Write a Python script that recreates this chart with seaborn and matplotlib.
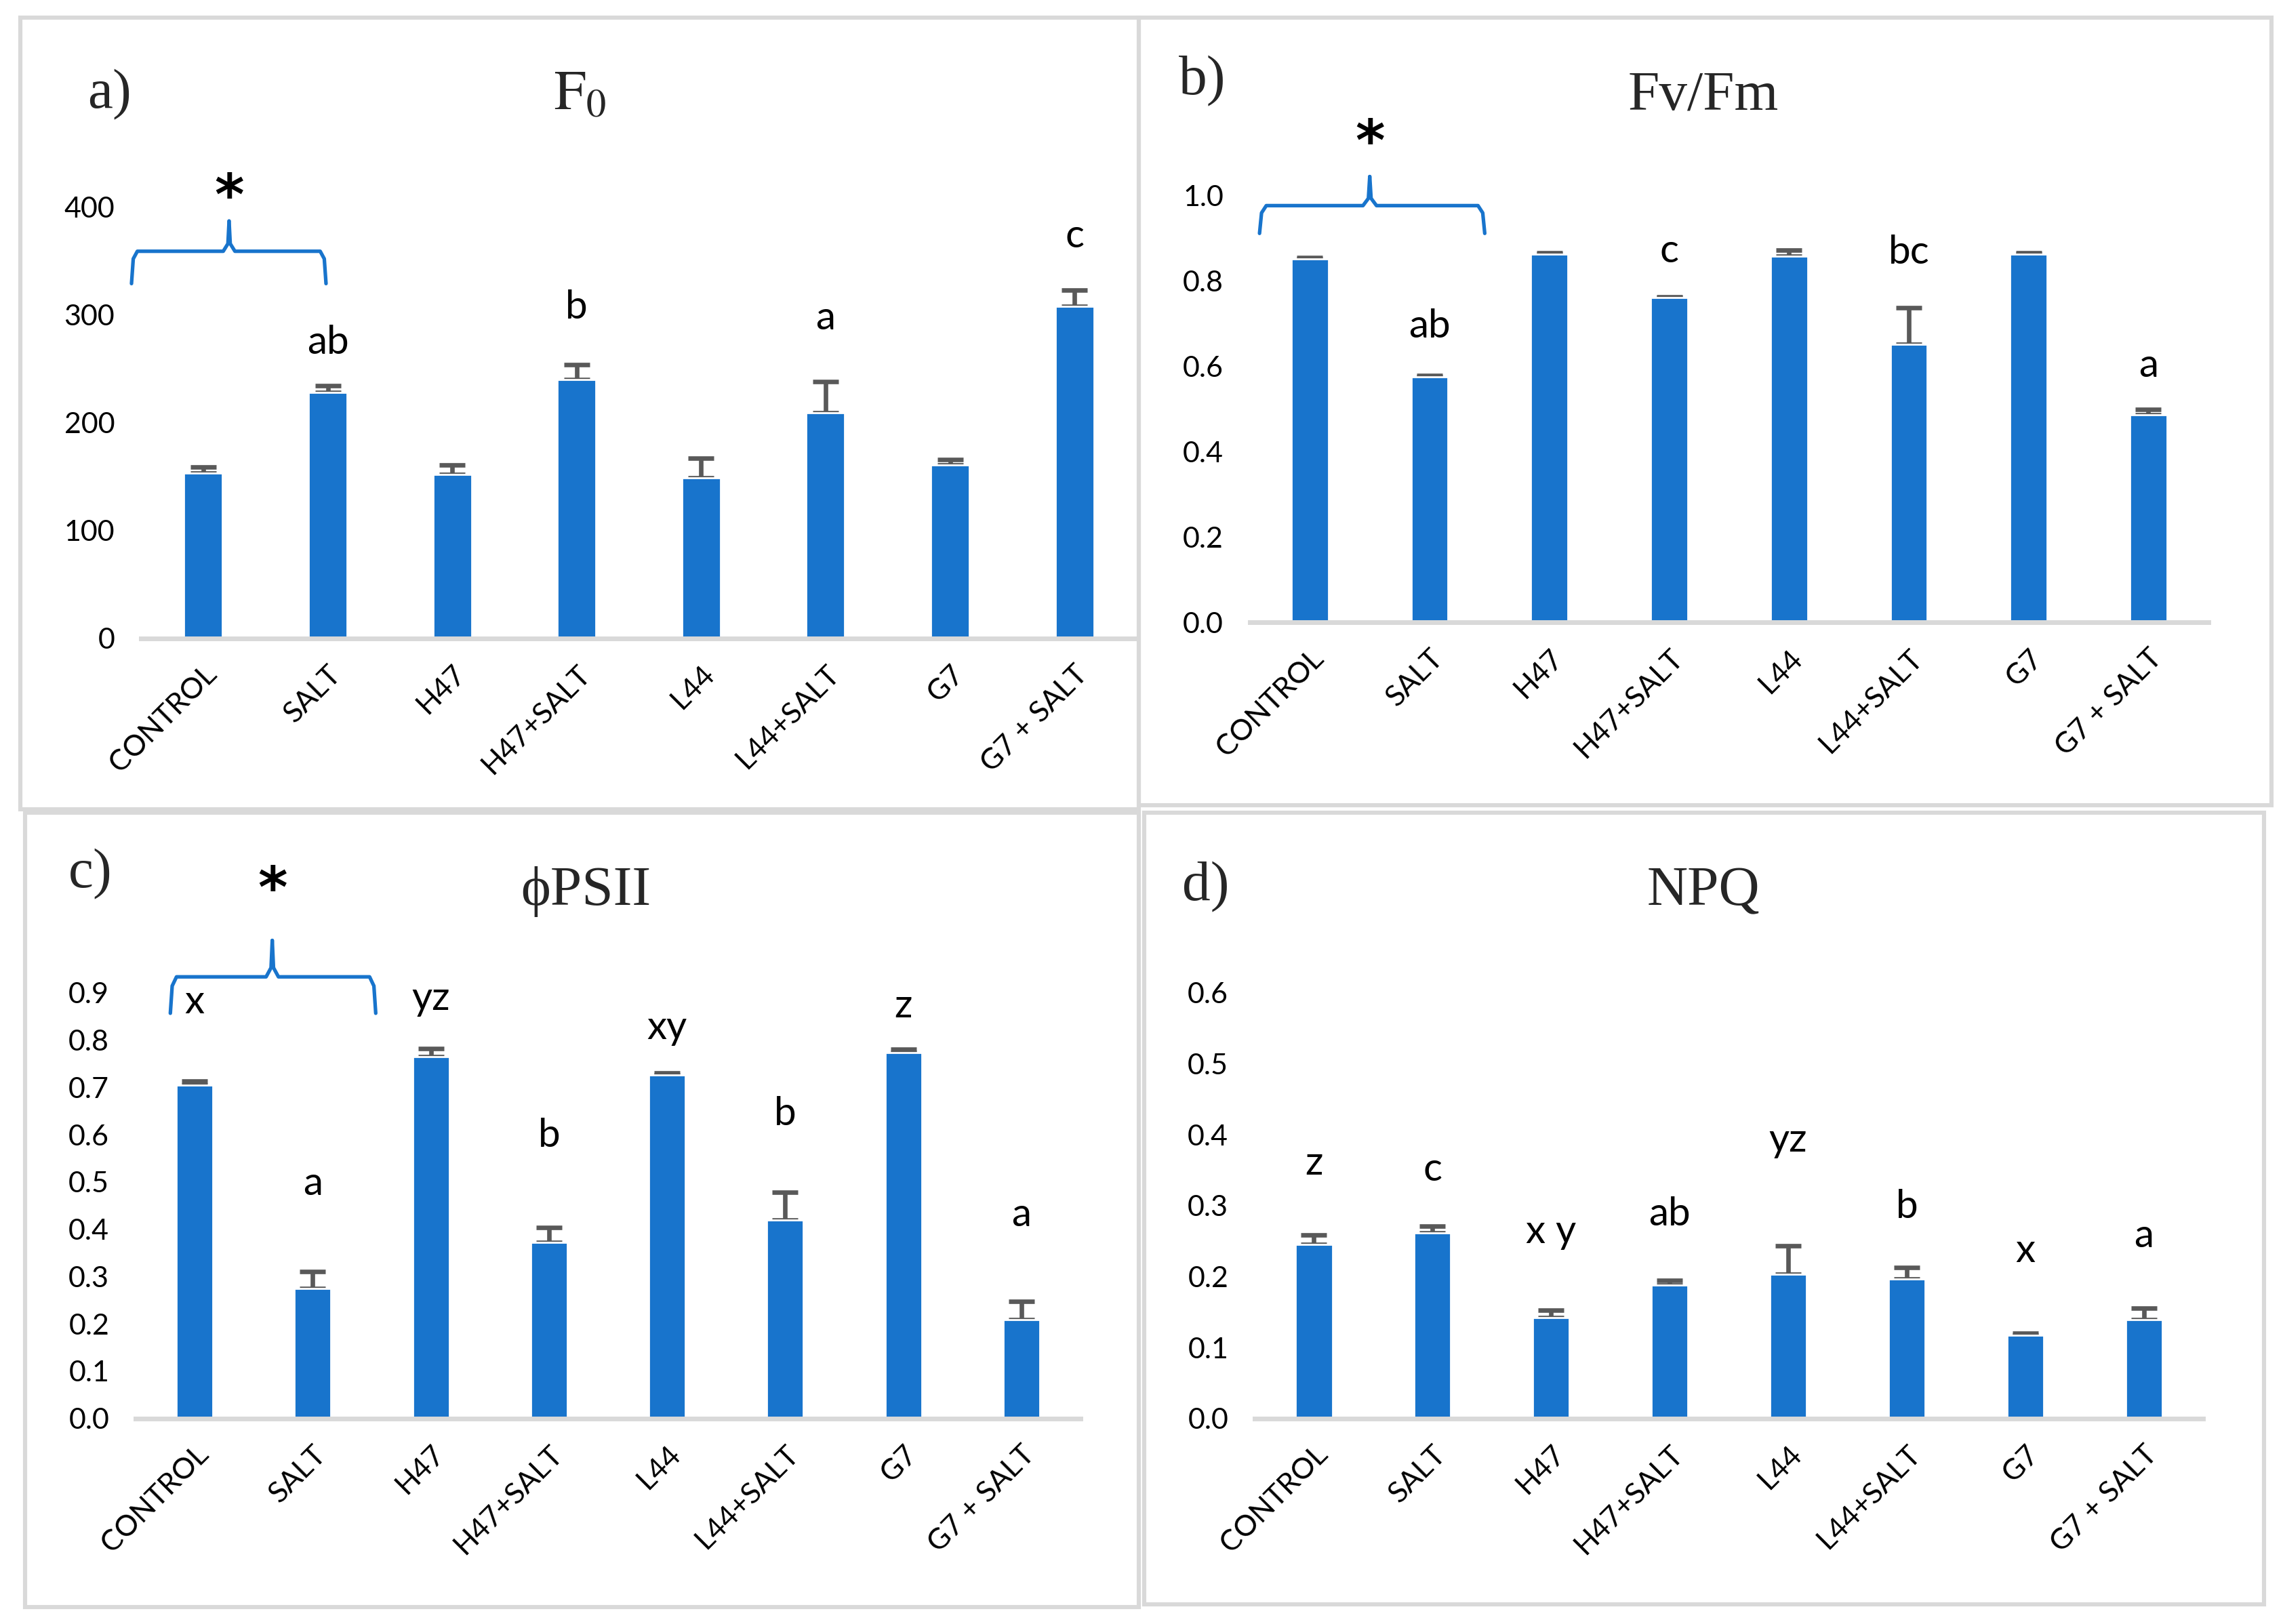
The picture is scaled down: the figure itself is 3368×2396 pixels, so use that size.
import matplotlib as mpl
import seaborn as sns
import pandas as pd
from matplotlib import pyplot as plt
from matplotlib.patches import Rectangle

sns.set_theme(style='white')
mpl.rcParams['font.family'] = ['Lato', 'DejaVu Sans']
mpl.rcParams['mathtext.fontset'] = 'stix'

BLUE = '#1874CC'
GREY = '#D9D9D9'
ERR = '#595959'
SERIF = ['Liberation Serif', 'DejaVu Serif']

# categories
treatments = ['CONTROL', 'SALT', 'H47', 'H47+SALT', 'L44', 'L44+SALT', 'G7', 'G7 + SALT']

# a) F0
f0 = [153, 228, 152, 240, 149, 209, 161, 308]
f0_err = [6, 6, 9, 14, 18, 29, 5, 15]
f0_letters = ['', 'ab', '', 'b', '', 'a', '', 'c']
f0_letter_y = [0, 274, 0, 307, 0, 297, 0, 373]

# b) Fv/Fm
fvfm = [0.852, 0.575, 0.862, 0.760, 0.857, 0.652, 0.862, 0.487]
fvfm_err = [0.003, 0.004, 0.003, 0.003, 0.015, 0.085, 0.003, 0.012]
fvfm_letters = ['', 'ab', '', 'c', '', 'bc', '', 'a']
fvfm_letter_y = [0, 0.693, 0, 0.870, 0, 0.867, 0, 0.601]

# c) PhiPSII
phi = [0.705, 0.275, 0.765, 0.372, 0.726, 0.420, 0.774, 0.209]
phi_err = [0.008, 0.036, 0.018, 0.032, 0.004, 0.058, 0.007, 0.038]
phi_letters = ['x', 'a', 'yz', 'b', 'xy', 'b', 'z', 'a']
phi_letter_y = [0.881, 0.496, 0.888, 0.598, 0.826, 0.644, 0.872, 0.431]

# d) NPQ
npq = [0.245, 0.262, 0.142, 0.188, 0.203, 0.197, 0.117, 0.139]
npq_err = [0.014, 0.009, 0.011, 0.007, 0.040, 0.016, 0.003, 0.016]
npq_letters = ['z', 'c', 'x y', 'ab', 'yz', 'b', 'x', 'a']
npq_letter_y = [0.360, 0.351, 0.263, 0.288, 0.392, 0.298, 0.236, 0.257]

panels = [
    dict(tag='a)', title=r'$\mathrm{F_0}$', vals=f0, err=f0_err, letters=f0_letters,
         ly=f0_letter_y, ymax=400, step=100, fmt='{:.0f}',
         rect=[0.0618, 0.607, 0.4361, 0.2655],
         brace=(-0.577, 0.986, 0.207, 329, 359, 387, 408),
         tag_xy=(0.048, 0.9416), title_xy=(0.254, 0.941),
         border=(0.0089, 0.5017, 0.4899, 0.4873)),
    dict(tag='b)', title='Fv/Fm', vals=fvfm, err=fvfm_err, letters=fvfm_letters,
         ly=fvfm_letter_y, ymax=1.0, step=0.2, fmt='{:.1f}',
         rect=[0.5475, 0.6167, 0.4198, 0.263],
         brace=(-0.42, 1.46, 0.50, 0.911, 0.976, 1.044, 1.12),
         tag_xy=(0.5267, 0.950), title_xy=(0.746, 0.941),
         border=(0.4988, 0.5042, 0.4962, 0.4848)),
    dict(tag='c)', title='ϕPSII', vals=phi, err=phi_err, letters=phi_letters,
         ly=phi_letter_y, ymax=0.9, step=0.1, fmt='{:.1f}',
         rect=[0.0594, 0.1266, 0.4139, 0.262],
         brace=(-0.206, 1.533, 0.657, 0.857, 0.934, 1.011, 1.115),
         tag_xy=(0.0395, 0.4616), title_xy=(0.2565, 0.451),
         border=(0.011, 0.0104, 0.4878, 0.4892)),
    dict(tag='d)', title='NPQ', vals=npq, err=npq_err, letters=npq_letters,
         ly=npq_letter_y, ymax=0.6, step=0.1, fmt='{:.1f}',
         rect=[0.5496, 0.1266, 0.4154, 0.262],
         brace=None,
         tag_xy=(0.528, 0.454), title_xy=(0.746, 0.451),
         border=(0.5012, 0.0121, 0.4905, 0.4875)),
]

fig = plt.figure(figsize=(16.84, 11.98), dpi=200)
fig.patch.set_facecolor('white')

for p in panels:
    bx, by, bw, bh = p['border']
    fig.add_artist(Rectangle((bx, by), bw, bh, transform=fig.transFigure,
                             fill=False, edgecolor=GREY, linewidth=2.2))

    ax = fig.add_axes(p['rect'])
    df = pd.DataFrame({'treatment': treatments, 'value': p['vals']})
    ax.errorbar(range(len(treatments)), p['vals'],
                yerr=[[0] * len(treatments), p['err']], fmt='none',
                ecolor=ERR, elinewidth=2.4, capsize=7, capthick=2.4, zorder=1)
    sns.barplot(ax=ax, data=df, x='treatment', y='value', color=BLUE,
                saturation=1, width=0.31, zorder=2)
    ax.set_xlim(-0.5, len(treatments) - 0.5)
    ax.set_ylim(0, p['ymax'])
    ax.set(xlabel='', ylabel='')
    ticks = [i * p['step'] for i in range(int(round(p['ymax'] / p['step'])) + 1)]
    ax.set_yticks(ticks)
    ax.set_yticklabels([p['fmt'].format(t) for t in ticks], fontsize=15.5, color='black')
    ax.set_xticks(range(len(treatments)))
    ax.set_xticklabels(treatments, rotation=45, ha='right', rotation_mode='anchor',
                       fontsize=15.5, color='black')
    ax.tick_params(axis='both', length=0)
    ax.tick_params(axis='y', pad=14)
    ax.tick_params(axis='x', pad=12)
    for side in ['top', 'right', 'left']:
        ax.spines[side].set_visible(False)
    ax.spines['bottom'].set_color(GREY)
    ax.spines['bottom'].set_linewidth(2.5)
    ax.set_facecolor('none')

    for i, (lab, y) in enumerate(zip(p['letters'], p['ly'])):
        if lab:
            ax.text(i, y, lab, ha='center', va='center', fontsize=21, color='black',
                    clip_on=False)

    if p['brace']:
        x0, x1, xc, yl, yh, yp, ys = p['brace']
        d = 0.03 * (x1 - x0)
        dy = (yp - yh) * 0.25
        ax.plot([x0, x0 + d * 0.3, x0 + d, xc - d, xc - d * 0.2, xc],
                [yl, yh - dy, yh, yh, yh + dy, yp], color=BLUE, lw=1.9, clip_on=False)
        ax.plot([x1, x1 - d * 0.3, x1 - d, xc + d, xc + d * 0.2, xc],
                [yl, yh - dy, yh, yh, yh + dy, yp], color=BLUE, lw=1.9, clip_on=False)
        ax.text(xc, ys, '*', ha='center', va='center', fontsize=30, fontweight='bold',
                family=['DejaVu Sans'], color='black', clip_on=False)

    fig.text(*p['tag_xy'], p['tag'], family=SERIF, fontsize=30, ha='center', va='center')
    fig.text(*p['title_xy'], p['title'], family=SERIF, fontsize=30, ha='center', va='center')

fig.savefig('out.png', dpi=200, facecolor='white')
